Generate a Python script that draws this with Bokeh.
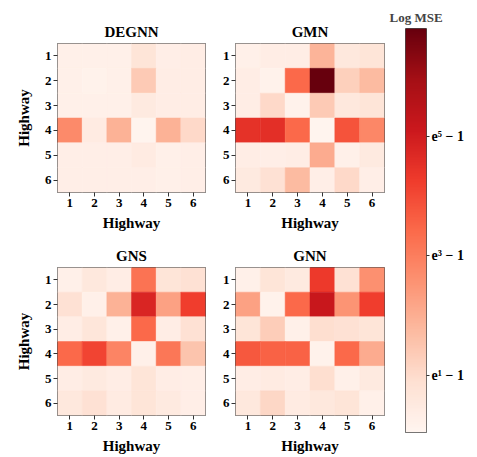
import numpy as np
from bokeh.plotting import figure
from bokeh.layouts import row, column
from bokeh.models import LinearColorMapper, FixedTicker, Range1d, ColumnDataSource
from bokeh.palettes import Reds256
from bokeh.embed import file_html
from bokeh.resources import INLINE

highways = [1, 2, 3, 4, 5, 6]

# log(1 + MSE) per (row highway, column highway)
degnn = [
    [0.25, 0.25, 0.25, 0.73, 0.32, 0.39],
    [0.25, 0.19, 0.25, 1.40, 0.39, 0.39],
    [0.25, 0.25, 0.25, 0.52, 0.39, 0.39],
    [2.75, 0.46, 1.94, 0.12, 1.94, 1.06],
    [0.32, 0.32, 0.32, 0.46, 0.25, 0.32],
    [0.32, 0.32, 0.32, 0.32, 0.25, 0.32],
]
gmn = [
    [0.25, 0.39, 0.39, 1.87, 0.59, 0.73],
    [0.39, 0.19, 3.43, 6.80, 1.27, 1.74],
    [0.39, 1.06, 0.19, 1.40, 0.59, 0.73],
    [4.50, 4.55, 3.43, 0.12, 3.83, 2.80],
    [0.39, 0.32, 0.39, 2.08, 0.25, 0.52],
    [0.52, 0.86, 1.74, 0.32, 1.06, 0.32],
]
gns = [
    [0.25, 0.59, 0.39, 3.22, 0.73, 0.86],
    [0.86, 0.25, 1.94, 4.78, 2.28, 4.24],
    [0.39, 0.66, 0.25, 3.43, 0.39, 0.86],
    [3.43, 4.10, 2.89, 0.25, 3.16, 1.54],
    [0.39, 0.52, 0.39, 0.73, 0.39, 0.32],
    [0.59, 0.86, 0.46, 0.73, 0.52, 0.32],
]
gnn = [
    [0.25, 0.73, 0.52, 4.30, 0.86, 2.62],
    [2.28, 0.19, 3.43, 5.18, 2.55, 4.24],
    [0.73, 1.33, 0.25, 0.93, 0.86, 0.73],
    [3.76, 3.56, 3.56, 0.19, 3.43, 2.08],
    [0.39, 0.46, 0.39, 0.93, 0.25, 0.52],
    [0.59, 1.13, 0.46, 0.59, 0.73, 0.25],
]

cbar_ticks = [1, 3, 5]
cbar_labels = {1: "e¹ − 1", 3: "e³ − 1", 5: "e⁵ − 1"}
VMIN, VMAX = 0.05, 6.8

FONT = "Liberation Serif"
OUTLINE = "#4a4a4a"
palette = list(reversed(Reds256))
mapper = LinearColorMapper(palette=palette, low=VMIN, high=VMAX)


def heat(title, data, width, height, bl, bt, bb, br, ylabel):
    xs, ys, vs = [], [], []
    for i, r in enumerate(highways):
        for j, c in enumerate(highways):
            xs.append(c)
            ys.append(r)
            vs.append(data[i][j])
    src = ColumnDataSource(dict(x=xs, y=ys, v=vs))
    p = figure(width=width, height=height,
               x_range=Range1d(0.5, 6.5), y_range=Range1d(6.5, 0.5),
               output_backend="svg", toolbar_location=None,
               min_border_left=bl, min_border_top=bt,
               min_border_bottom=bb, min_border_right=br,
               title=title)
    p.rect(x="x", y="y", width=1, height=1, source=src,
           fill_color={"field": "v", "transform": mapper},
           line_color={"field": "v", "transform": mapper}, line_width=0.5)
    p.grid.visible = False
    p.outline_line_color = OUTLINE
    p.outline_line_width = 1
    p.background_fill_color = "white"
    p.border_fill_color = "white"
    p.title.align = "center"
    p.title.text_font = FONT
    p.title.text_font_style = "bold"
    p.title.text_font_size = "15px"
    p.title.text_color = "black"
    p.title.standoff = 8
    for ax in (p.xaxis[0], p.yaxis[0]):
        ax.ticker = FixedTicker(ticks=highways)
        ax.axis_line_color = None
        ax.major_tick_in = 0
        ax.major_tick_out = 4
        ax.major_tick_line_color = "#333333"
        ax.minor_tick_line_color = None
        ax.major_label_text_font = FONT
        ax.major_label_text_font_style = "bold"
        ax.major_label_text_font_size = "13px"
        ax.major_label_text_color = "black"
        ax.major_label_standoff = 2
        ax.axis_label_text_font = FONT
        ax.axis_label_text_font_style = "bold"
        ax.axis_label_text_font_size = "15px"
        ax.axis_label_text_color = "black"
    p.xaxis[0].axis_label = "Highway"
    p.xaxis[0].axis_label_standoff = 5
    if ylabel:
        p.yaxis[0].axis_label = "Highway"
        p.yaxis[0].axis_label_standoff = 10
    p.yaxis[0].major_label_orientation = "horizontal"
    return p


f1 = heat("DEGNN", degnn, 214, 233, 57, 43, 40, 9, True)
f2 = heat("GMN", gmn, 171, 233, 21, 43, 40, 1, False)
f3 = heat("GNS", gns, 214, 224, 57, 34, 42, 9, True)
f4 = heat("GNN", gnn, 171, 224, 21, 34, 42, 1, False)

# colour bar
cb = figure(width=84, height=457, x_range=Range1d(0, 1),
            y_range=Range1d(VMIN, VMAX), output_backend="svg",
            toolbar_location=None, y_axis_location="right",
            min_border_left=20, min_border_right=43,
            min_border_top=28, min_border_bottom=25, title="Log MSE")
grad = np.linspace(VMIN, VMAX, 256).reshape(256, 1)
cb.image(image=[grad], x=0, y=VMIN, dw=1, dh=VMAX - VMIN, color_mapper=mapper)
cb.xaxis.visible = False
cb.grid.visible = False
cb.outline_line_color = OUTLINE
cb.border_fill_color = "white"
cb.title.align = "center"
cb.title.text_font = FONT
cb.title.text_font_style = "bold"
cb.title.text_font_size = "13px"
cb.title.standoff = 8
ya = cb.yaxis[0]
ya.ticker = FixedTicker(ticks=cbar_ticks)
ya.major_label_overrides = cbar_labels
ya.axis_line_color = None
ya.major_tick_in = 0
ya.major_tick_out = 3
ya.major_tick_line_color = "#333333"
ya.minor_tick_line_color = None
ya.major_label_text_font = FONT
ya.major_label_text_font_style = "bold"
ya.major_label_text_font_size = "14px"
ya.major_label_text_color = "black"
ya.major_label_standoff = 2

layout = row(column(f1, f3), column(f2, f4), cb)
open("out.html", "w").write(file_html(layout, INLINE))
